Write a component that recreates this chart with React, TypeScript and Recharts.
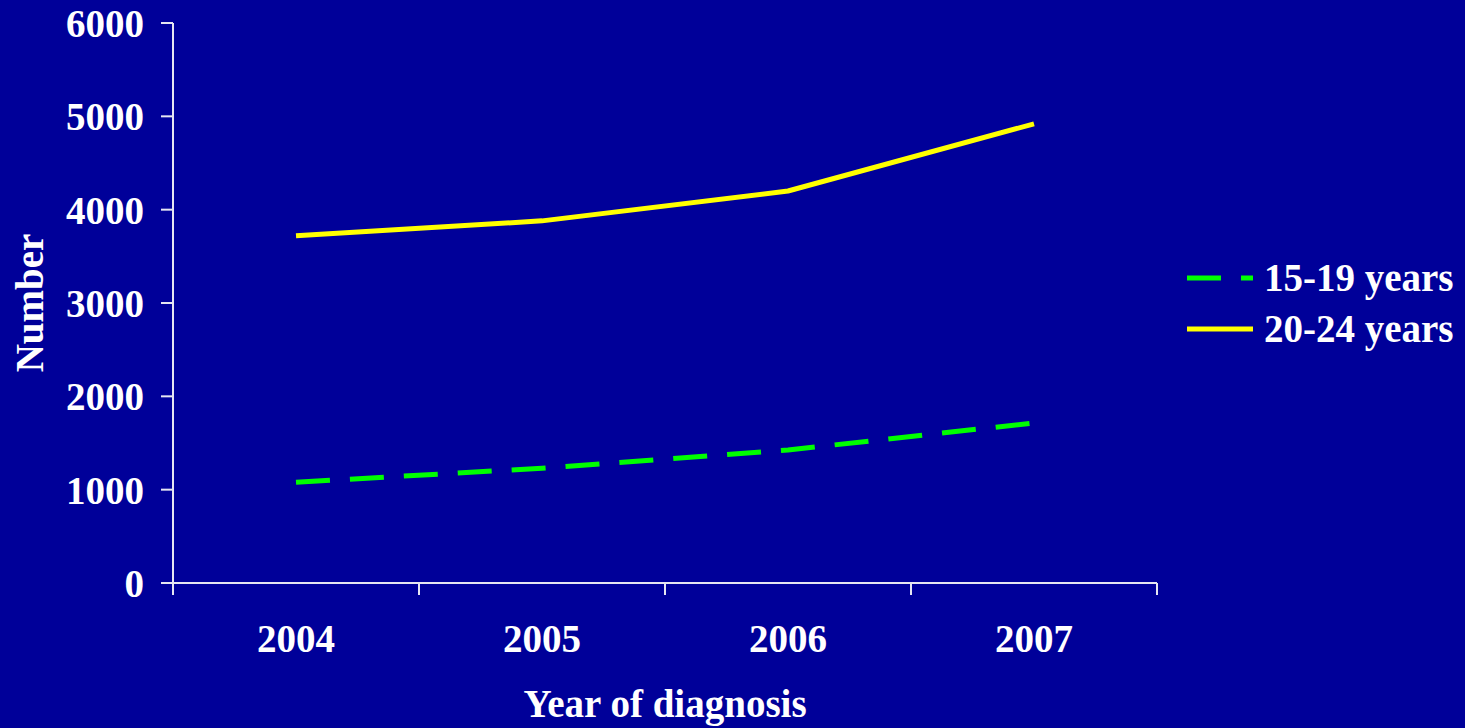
import { LineChart, Line, XAxis, YAxis, Label } from "recharts"

const years = ["2004", "2005", "2006", "2007"]
const teens = [1080, 1230, 1425, 1715]
const twenties = [3720, 3880, 4200, 4920]
const yTicks = [0, 1000, 2000, 3000, 4000, 5000, 6000]

const series = [
  { key: "teens", name: "15-19 years", color: "#00ff00", dash: "34 20" },
  { key: "twenties", name: "20-24 years", color: "#ffff00", dash: undefined },
]

const data = years.map((year, i) => ({ year, teens: teens[i], twenties: twenties[i] }))

const W = 1465
const H = 728
const xAxisHeight = 30
const margin = { top: 23, right: 308, bottom: 145 - xAxisHeight, left: 0 }
const yAxisWidth = 173
const plotWidth = W - margin.right - margin.left - yAxisWidth
const band = plotWidth / years.length

const font = "'Liberation Serif', 'Times New Roman', serif"
const axisColor = "#e6e6f2"
const textStyle = { fill: "#ffffff", fontSize: 39, fontWeight: "bold" as const, fontFamily: font }

function XTick(props: any) {
  const { x, y, payload, index } = props
  return (
    <g>
      <line x1={x - band / 2} x2={x - band / 2} y1={y} y2={y + 12} stroke={axisColor} strokeWidth={2} />
      {index === years.length - 1 && (
        <line x1={x + band / 2} x2={x + band / 2} y1={y} y2={y + 12} stroke={axisColor} strokeWidth={2} />
      )}
      <text x={x} y={y + 69} textAnchor="middle" {...textStyle}>
        {payload.value}
      </text>
    </g>
  )
}

function LegendBox() {
  return (
    <svg width={290} height={110} style={{ position: "absolute", left: 1180, top: 250 }}>
      {series.map((s, i) => (
        <g key={s.key}>
          <line
            x1={7}
            x2={73}
            y1={28 + i * 51}
            y2={28 + i * 51}
            stroke={s.color}
            strokeWidth={5}
            strokeDasharray={s.dash}
          />
          <text x={84} y={41 + i * 51} {...textStyle}>
            {s.name}
          </text>
        </g>
      ))}
    </svg>
  )
}

export default function App() {
  return (
    <div style={{ position: "fixed", left: 0, top: 0, width: W, height: H, background: "#000099" }}>
      <LineChart width={W} height={H} data={data} margin={margin}>
        <XAxis
          dataKey="year"
          scale="band"
          height={xAxisHeight}
          tick={<XTick />}
          tickLine={false}
          tickSize={0}
          tickMargin={0}
          axisLine={{ stroke: axisColor, strokeWidth: 2 }}
          interval={0}
        >
          <Label
            content={(p: any) => (
              <text x={p.viewBox.x + p.viewBox.width / 2} y={717} textAnchor="middle" {...textStyle}>
                Year of diagnosis
              </text>
            )}
          />
        </XAxis>
        <YAxis
          width={yAxisWidth}
          domain={[0, 6000]}
          ticks={yTicks}
          interval={0}
          tick={textStyle}
          tickSize={12}
          tickMargin={17}
          tickLine={{ stroke: axisColor, strokeWidth: 2 }}
          axisLine={{ stroke: axisColor, strokeWidth: 2 }}
        >
          <Label
            content={(p: any) => {
              const cy = p.viewBox.y + p.viewBox.height / 2
              return (
                <text x={43} y={cy} transform={`rotate(-90, 43, ${cy})`} textAnchor="middle" {...textStyle}>
                  Number
                </text>
              )
            }}
          />
        </YAxis>
        {series.map((s) => (
          <Line
            key={s.key}
            dataKey={s.key}
            name={s.name}
            type="linear"
            stroke={s.color}
            strokeWidth={5}
            strokeDasharray={s.dash}
            strokeLinejoin="round"
            dot={false}
            activeDot={false}
            isAnimationActive={false}
          />
        ))}
      </LineChart>
      <LegendBox />
    </div>
  )
}
